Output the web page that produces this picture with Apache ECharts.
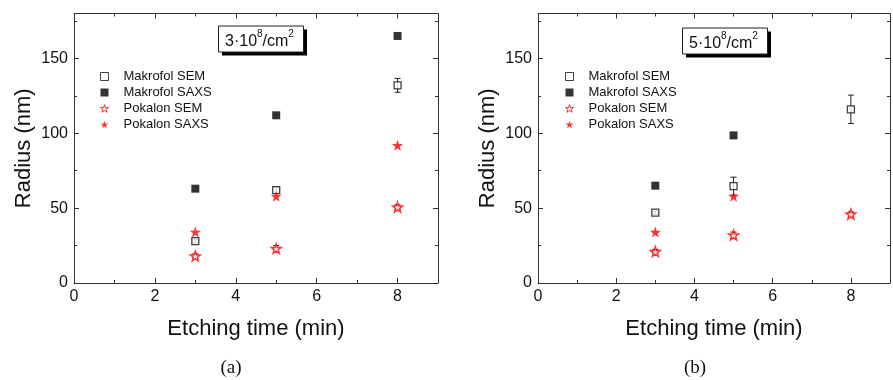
<!DOCTYPE html>
<html><head><meta charset="utf-8">
<script src="https://cdn.jsdelivr.net/npm/echarts@6/dist/echarts.min.js"></script>
<style>html,body{margin:0;padding:0;background:#fff}#c{width:893px;height:380px}</style>
</head><body><div id="c"></div>
<script>
// ---- data ----
var xTicksLabels = ['0','2','4','6','8'];
var yTickLabels = ['0','50','100','150'];
var etchTimes = [3, 5, 8];
// Panel (a) 3e8/cm2
var aMakSEM = [28, 62, 132];
var aMakSEMErr = [1.2, 2, 4.6];
var aMakSAXS = [63, 112, 165];
var aPokSEM = [18, 23, 50.7];
var aPokSEMErr = [1.5, 2, 1.5];
var aPokSAXS = [34, 58, 92];
// Panel (b) 5e8/cm2
var bTimes = [3, 5, 8];
var bMakSEM = [47, 64.7, 116];
var bMakSEMErr = [1, 6, 9.5];
var bMakSAXSTimes = [3, 5];
var bMakSAXS = [65, 98.6];
var bPokSEM = [21, 32, 46];
var bPokSEMErr = [1.5, 2, 1.5];
var bPokSAXSTimes = [3, 5];
var bPokSAXS = [34, 58];
var seriesNames = ['Makrofol SEM','Makrofol SAXS','Pokalon SEM','Pokalon SAXS'];

var STAR = 'path://M50,0 L61.8,35.1 L97.6,34.5 L69.1,56.9 L79.4,90.5 L50,70 L20.6,90.5 L30.9,56.9 L2.4,34.5 L38.2,35.1 Z';
function pairs(xs, ys){ return xs.map(function(x,i){return [x, ys[i]];}); }
function errData(xs, ys, es){ return xs.map(function(x,i){return [x, ys[i]-es[i], ys[i]+es[i]];}); }

var FONT = 'Liberation Sans, Arial, sans-serif';
var grids = [
  {left:74, top:13.5, width:364, height:269.5},
  {left:538, top:13.5, width:364, height:269.5}
];
var xAxes = [], yAxes = [];
grids.forEach(function(g, gi){
  var axLine = {show:true, onZero:false, lineStyle:{color:'#333', width:1}};
  var tick = {show:true, inside:true, length:5, lineStyle:{color:'#333'}};
  var minor = {show:true, splitNumber:2, length:3, lineStyle:{color:'#333'}};
  xAxes.push({gridIndex:gi, type:'value', min:0, max:9, interval:2, position:'bottom',
    axisLine:axLine, axisTick:tick, minorTick:minor,
    splitLine:{show:false}, minorSplitLine:{show:false},
    axisLabel:{fontFamily:FONT, fontSize:16, color:'#111', margin:6,
      formatter:function(v){ var s=String(v); return xTicksLabels.indexOf(s)>=0 ? s : ''; }},
    name:'Etching time (min)', nameLocation:'middle', nameGap:35,
    nameTextStyle:{fontFamily:FONT, fontSize:22, color:'#111'}});
  xAxes.push({gridIndex:gi, type:'value', min:0, max:9, interval:2, position:'top',
    axisLine:axLine, axisTick:tick, minorTick:minor,
    splitLine:{show:false}, axisLabel:{show:false}});
  yAxes.push({gridIndex:gi, type:'value', min:0, max:180, interval:50, position:'left',
    axisLine:axLine, axisTick:tick, minorTick:minor,
    splitLine:{show:false},
    axisLabel:{fontFamily:FONT, fontSize:16, color:'#111', margin:6,
      formatter:function(v){ var s=String(v); return yTickLabels.indexOf(s)>=0 ? s : ''; }},
    name:'Radius (nm)', nameLocation:'middle', nameGap:39,
    nameTextStyle:{fontFamily:FONT, fontSize:22, color:'#111'}});
  yAxes.push({gridIndex:gi, type:'value', min:0, max:180, interval:50, position:'right',
    axisLine:axLine, axisTick:tick, minorTick:minor,
    splitLine:{show:false}, axisLabel:{show:false}});
});

function errSeries(gi, data){
  return {type:'custom', xAxisIndex:gi*2, yAxisIndex:gi*2, data:data, z:1, silent:true,
    renderItem:function(params, api){
      var x=api.value(0), lo=api.value(1), hi=api.value(2);
      var p1=api.coord([x,lo]), p2=api.coord([x,hi]);
      var w=3, st={stroke:'#222', lineWidth:1};
      return {type:'group', children:[
        {type:'line', shape:{x1:p1[0],y1:p1[1],x2:p2[0],y2:p2[1]}, style:st},
        {type:'line', shape:{x1:p1[0]-w,y1:p1[1],x2:p1[0]+w,y2:p1[1]}, style:st},
        {type:'line', shape:{x1:p2[0]-w,y1:p2[1],x2:p2[0]+w,y2:p2[1]}, style:st}
      ]};
    }};
}
function sc(gi, name, data, kind){
  var s = {type:'scatter', name:name, xAxisIndex:gi*2, yAxisIndex:gi*2, data:data, z:3};
  if(kind==='openSq'){ s.symbol='rect'; s.symbolSize=7; s.itemStyle={color:'#fff', borderColor:'#111', borderWidth:1.3}; }
  if(kind==='fillSq'){ s.symbol='rect'; s.symbolSize=8; s.itemStyle={color:'#000'}; }
  if(kind==='openSt'){ s.symbol=STAR; s.symbolSize=10; s.itemStyle={color:'#fff', borderColor:'#f00', borderWidth:1.4}; }
  if(kind==='fillSt'){ s.symbol=STAR; s.symbolSize=11; s.itemStyle={color:'#f00'}; }
  return s;
}
var series = [
  errSeries(0, errData(etchTimes, aMakSEM, aMakSEMErr)),
  errSeries(0, errData(etchTimes, aPokSEM, aPokSEMErr)),
  sc(0, seriesNames[0], pairs(etchTimes, aMakSEM), 'openSq'),
  sc(0, seriesNames[1], pairs(etchTimes, aMakSAXS), 'fillSq'),
  sc(0, seriesNames[2], pairs(etchTimes, aPokSEM), 'openSt'),
  sc(0, seriesNames[3], pairs(etchTimes, aPokSAXS), 'fillSt'),
  errSeries(1, errData(bTimes, bMakSEM, bMakSEMErr)),
  errSeries(1, errData(bTimes, bPokSEM, bPokSEMErr)),
  sc(1, seriesNames[0], pairs(bTimes, bMakSEM), 'openSq'),
  sc(1, seriesNames[1], pairs(bMakSAXSTimes, bMakSAXS), 'fillSq'),
  sc(1, seriesNames[2], pairs(bTimes, bPokSEM), 'openSt'),
  sc(1, seriesNames[3], pairs(bPokSAXSTimes, bPokSAXS), 'fillSt')
];
function legend(left){
  return {left:left, top:65, orient:'vertical', itemWidth:8, itemHeight:8, itemGap:3,
    selectedMode:false,
    data:[
      {name:seriesNames[0], icon:'rect', itemStyle:{color:'#fff', borderColor:'#111', borderWidth:1}},
      {name:seriesNames[1], icon:'rect', itemStyle:{color:'#000', borderWidth:0}},
      {name:seriesNames[2], icon:STAR, itemStyle:{color:'#fff', borderColor:'#f00', borderWidth:1}},
      {name:seriesNames[3], icon:STAR, itemStyle:{color:'#f00', borderWidth:0}}
    ],
    textStyle:{fontFamily:FONT, fontSize:13, color:'#111', padding:[0,0,0,10]}};
}
function annot(x, y, label){
  return [
    {type:'rect', left:x+4, top:y+4, shape:{width:85, height:26}, style:{fill:'#000'}, z:10},
    {type:'rect', left:x, top:y, shape:{width:85, height:26}, style:{fill:'#fff', stroke:'#222', lineWidth:1}, z:11},
    {type:'text', left:x+7, top:y+4, z:12, style:{
      text:'{a|'+label+'·10}{s|8}{a|/cm}{s|2}',
      rich:{a:{fontFamily:FONT, fontSize:16, fill:'#111', lineHeight:20, verticalAlign:'bottom'},
            s:{fontFamily:FONT, fontSize:10, fill:'#111', lineHeight:20, verticalAlign:'top'}}}}
  ];
}
var graphic = [].concat(
  annot(218, 25.5, '3'),
  annot(682, 27.5, '5'),
  [{type:'text', x:231, y:368, style:{text:'(a)', fontFamily:'Liberation Serif, serif', fontSize:19, fill:'#111', align:'center', verticalAlign:'middle'}},
   {type:'text', x:695, y:368, style:{text:'(b)', fontFamily:'Liberation Serif, serif', fontSize:19, fill:'#111', align:'center', verticalAlign:'middle'}}]
);
var chart = echarts.init(document.getElementById('c'), null, {renderer:'canvas'});
chart.setOption({
  animation:false, backgroundColor:'#fff',
  grid:grids, xAxis:xAxes, yAxis:yAxes,
  legend:[legend(95), legend(560)],
  series:series, graphic:graphic
});
</script></body></html>
